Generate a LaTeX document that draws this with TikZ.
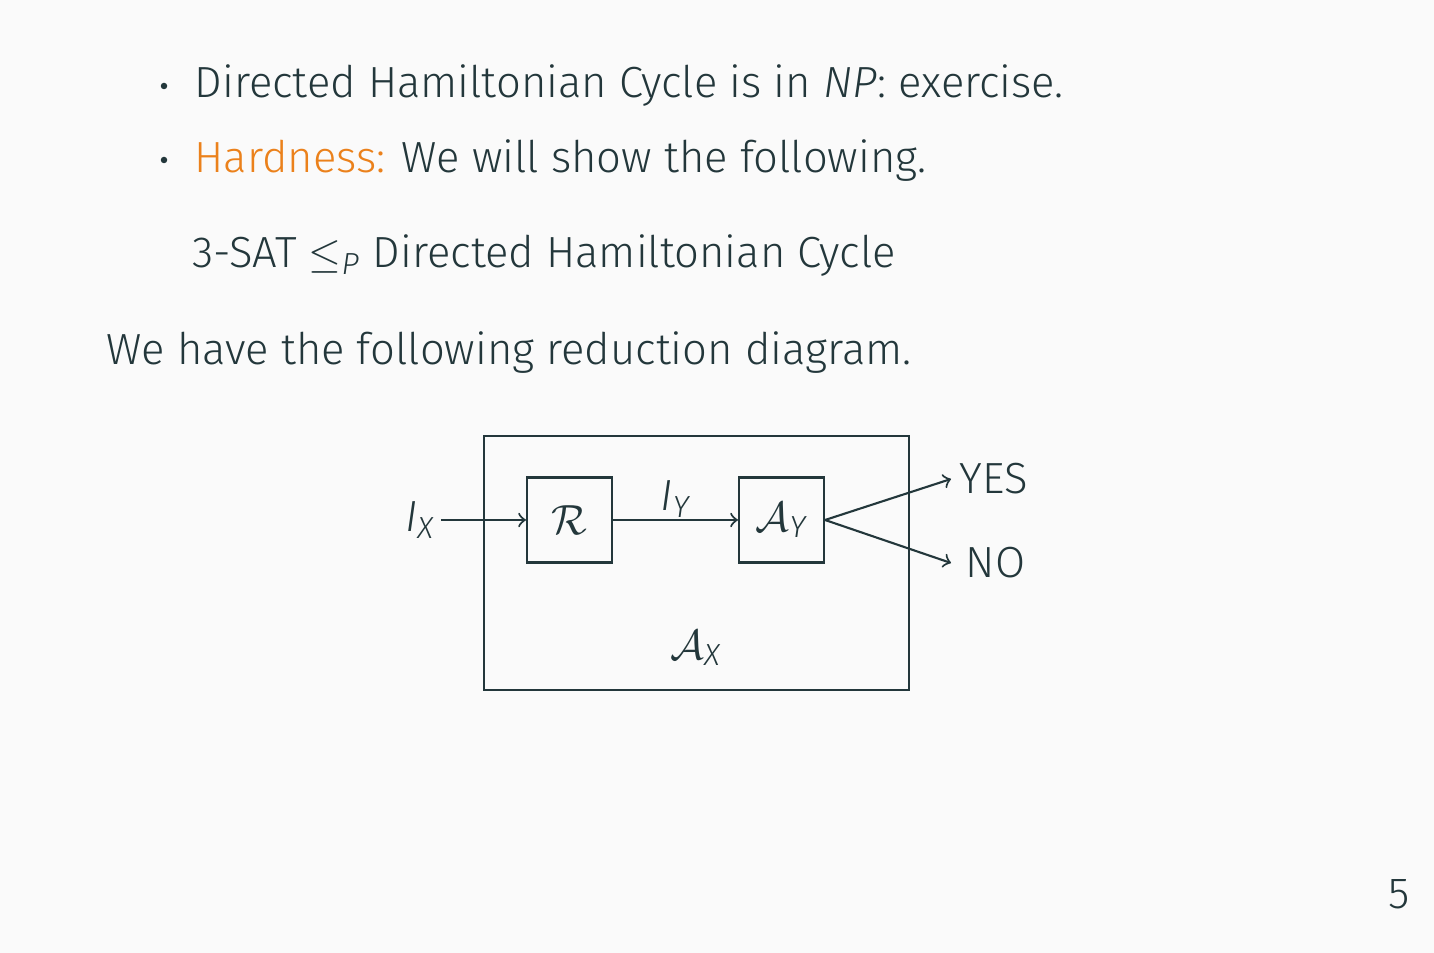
\documentclass[tikz,border=0pt]{standalone}
\usepackage{fontspec}
\setmainfont{Fira Sans}[UprightFont=* Light, ItalicFont=* Light Italic]
\usetikzlibrary{positioning}
\definecolor{mDark}{HTML}{23373B}
\definecolor{mOrange}{HTML}{EB811B}
\definecolor{mBack}{HTML}{FAFAFA}
\newcommand{\sbs}[1]{\textsubscript{\itshape #1}}

\begin{document}
\begin{tikzpicture}[>=to, x=0.1mm, y=-0.1mm,
  every node/.style={text=mDark, font=\fontsize{12.4}{15}\selectfont},
  line/.style={draw=mDark, line width=0.6pt},
  txt/.style={anchor=base west, inner sep=0pt},
  bullet/.style={circle, fill=mDark, minimum size=0.65mm, inner sep=0pt},
  algbox/.style={line, minimum size=8.5mm, inner sep=0pt}]
\fill[mBack] (0,0) rectangle (1434,953);
\useasboundingbox (0,0) rectangle (1434,953);
% slide text
\node[bullet] (dot1) at (164,86) {};
\node[txt] (item1) at (194,98) {Directed Hamiltonian Cycle is in \textit{NP}: exercise.};
\node[bullet] (dot2) at (164,160) {};
\node[txt] (item2) at (194,173) {\textcolor{mOrange}{Hardness:} We will show the following.};
\node[txt] (claim) at (192,268) {3-SAT $\leq$\sbs{P} Directed Hamiltonian Cycle};
\node[txt] (intro) at (106,365) {We have the following reduction diagram.};
% reduction diagram
\node[line, minimum width=42.5mm, minimum height=25.4mm, inner sep=0pt] (AX) at (696.5,563) {};
\node[algbox] (R) at (569.5,520) {$\mathcal{R}$};
\node[algbox] (AY) at (781.5,520) {$\mathcal{A}$\sbs{Y}};
\node[inner sep=1.5pt] (IX) at (420,520) {\textit{I}\sbs{X}};
\node (AXlab) at (696,648) {$\mathcal{A}$\sbs{X}};
\node[anchor=west, inner sep=0pt] (yes) at (959,479) {YES};
\node[anchor=west, inner sep=0pt] (no) at (965,563) {NO};
\coordinate (yesend) at (951,479);
\coordinate (noend) at (951,563);
\draw[line,->] (IX) -- (R);
\draw[line,->] (R) -- node[above, inner sep=0.5pt] {\textit{I}\sbs{Y}} (AY);
\draw[line,->] (AY.east) -- (yesend);
\draw[line,->] (AY.east) -- (noend);
% page number
\node[txt] (page) at (1388,908) {5};
\end{tikzpicture}
\end{document}
